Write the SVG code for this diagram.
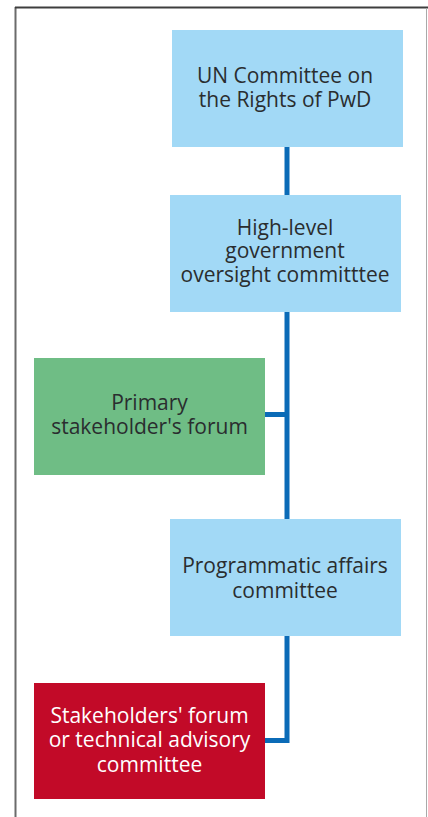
<svg xmlns="http://www.w3.org/2000/svg" width="428" height="817" viewBox="0 0 428 817">
  <style>
    .box-blue { fill: #a2d9f6; }
    .box-green { fill: #6fbd85; }
    .box-red { fill: #c20a28; }
    .label { font-family: "Open Sans", "Noto Sans", "DejaVu Sans", sans-serif; font-size: 21px; text-anchor: middle; fill: #2a2d2f; }
    .label-light { fill: #ffffff; }
    .link { fill: none; stroke: #0b6bb7; stroke-width: 5; stroke-linejoin: miter; }
  </style>

  <rect x="0" y="0" width="428" height="817" fill="#ffffff"/>

  <!-- frame -->
  <g id="frame">
    <line x1="15.5" y1="7" x2="15.5" y2="817" stroke="#6b6b6b" stroke-width="2"/>
    <line x1="15" y1="7.5" x2="428" y2="7.5" stroke="#3e3e3e" stroke-width="2"/>
    <line x1="426.5" y1="8" x2="426.5" y2="817" stroke="#a9a9a9" stroke-width="1"/>
  </g>

  <!-- connectors -->
  <g id="connectors">
    <line class="link" x1="287" y1="147" x2="287" y2="195"/>
    <line class="link" x1="287" y1="312" x2="287" y2="519"/>
    <line class="link" x1="265" y1="414.5" x2="287" y2="414.5"/>
    <polyline class="link" points="287,636 287,740.5 265,740.5"/>
  </g>

  <g id="un-committee">
    <rect class="box-blue" x="172" y="30" width="231" height="117"/>
    <text class="label" x="285" y="83">UN Committee on</text>
    <text class="label" x="285" y="107">the Rights of PwD</text>
  </g>

  <g id="oversight-committee">
    <rect class="box-blue" x="170" y="195" width="231" height="117"/>
    <text class="label" x="285" y="235">High-level</text>
    <text class="label" x="285" y="258">government</text>
    <text class="label" x="285" y="282">oversight committtee</text>
  </g>

  <g id="primary-forum">
    <rect class="box-green" x="34" y="358" width="231" height="117"/>
    <text class="label" x="149.5" y="410">Primary</text>
    <text class="label" x="149.5" y="434">stakeholder's forum</text>
  </g>

  <g id="programmatic-committee">
    <rect class="box-blue" x="170" y="519" width="231" height="117"/>
    <text class="label" x="285" y="573">Programmatic affairs</text>
    <text class="label" x="285" y="598">committee</text>
  </g>

  <g id="advisory-committee">
    <rect class="box-red" x="34" y="683" width="231" height="116"/>
    <text class="label label-light" x="149.5" y="723">Stakeholders' forum</text>
    <text class="label label-light" x="149.5" y="747">or technical advisory</text>
    <text class="label label-light" x="149.5" y="772">committee</text>
  </g>
</svg>
